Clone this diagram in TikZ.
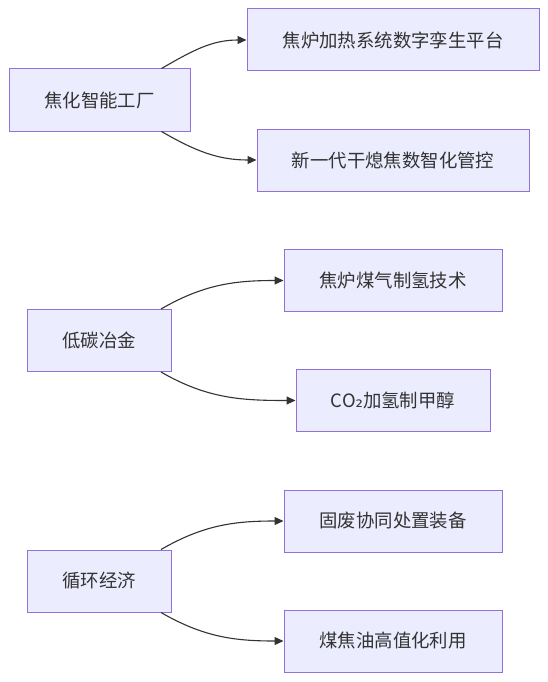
\documentclass[tikz,border=0pt]{standalone}
\usepackage{fontspec}
\setmainfont{Noto Sans CJK SC}
\newfontfamily\subfont{DejaVu Sans}
\usepackage{tikz}
\usetikzlibrary{arrows.meta}
\usetikzlibrary{positioning}

\definecolor{boxfill}{HTML}{ECECFF}
\definecolor{boxline}{HTML}{9370DB}
\definecolor{ink}{HTML}{333333}

\begin{document}
\begin{tikzpicture}[x=1pt,y=-1pt,
		box/.style={draw=boxline,fill=boxfill,line width=1pt,minimum height=62pt,
			inner sep=0pt,text=ink,font=\fontsize{18.4}{22}\selectfont},
		flow/.style={draw=ink,line width=1.1pt,-{Triangle[length=9pt,width=8pt]}}]
			\useasboundingbox (0,0) rectangle (548,682);
			
			% gongchang
			
			\node[box,minimum width=181pt] (A) at (99.5,100) {焦化智能工厂};
			\node[box,minimum width=292pt] (A1) at (393,40) {焦炉加热系统数字孪生平台};
			\node[box,minimum width=272pt] (A2) at (393,160) {新一代干熄焦数智化管控};
			\draw[flow] ([xshift=62pt]A.north) to[out=30,in=180] (A1.west);
			\draw[flow] ([xshift=62pt]A.south) to[out=-30,in=180] (A2.west);
			
			% yejin
			
			\node[box,minimum width=144pt] (B) at (99,340.5) {低碳冶金};
			\node[box,minimum width=218pt] (B1) at (393,280.5) {焦炉煤气制氢技术};
			\node[box,minimum width=194pt] (B2) at (393,400.5) {CO{\subfont ₂}加氢制甲醇};
			\draw[flow] ([xshift=62pt]B.north) to[out=30,in=180] (B1.west);
			\draw[flow] ([xshift=62pt]B.south) to[out=-30,in=180] (B2.west);
			
			% xunhuan
			
			\node[box,minimum width=144pt] (C) at (99,581) {循环经济};
			\node[box,minimum width=218pt] (C1) at (393,521) {固废协同处置装备};
			\node[box,minimum width=218pt] (C2) at (393,641) {煤焦油高值化利用};
			\draw[flow] ([xshift=62pt]C.north) to[out=30,in=180] (C1.west);
			\draw[flow] ([xshift=62pt]C.south) to[out=-30,in=180] (C2.west);
		\end{tikzpicture}
\end{document}
